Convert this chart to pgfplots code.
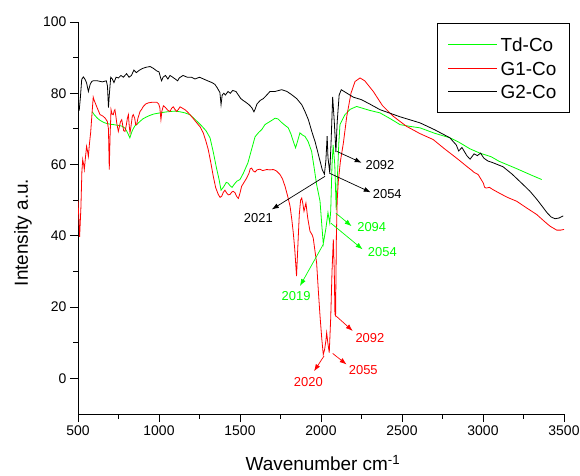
\documentclass[border=0pt]{standalone}
\usepackage{fontspec}
\setmainfont{Liberation Sans}
\usepackage{pgfplots}
\pgfplotsset{compat=1.18}
\usetikzlibrary{arrows.meta}
\definecolor{cgreen}{RGB}{0,255,0}
\definecolor{cred}{RGB}{255,0,0}
\pgfplotsset{mylegend/.style={legend image code/.code={\draw[##1, line width=0.8bp] (0bp,0bp) -- (49bp,0bp);}}}
\begin{document}
\begin{tikzpicture}
\begin{axis}[
  scale only axis, width=486bp, height=392bp,
  xmin=500, xmax=3500, ymin=-10, ymax=100,
  axis x line*=bottom, axis y line*=left,
  axis line style={line width=0.9bp},
  xtick={500,1000,...,3500}, minor x tick num=1,
  ytick={0,20,...,100}, minor y tick num=1,
  tick align=outside,
  major tick length=8bp, minor tick length=4.5bp,
  every tick/.style={black, line width=0.9bp},
  /pgf/number format/assume math mode=true,
  /pgf/number format/1000 sep={},
  tick label style={font=\fontsize{14}{16}\selectfont},
  xlabel={Wavenumber cm\textsuperscript{-1}},
  ylabel={Intensity a.u.},
  label style={font=\fontsize{19}{22}\selectfont},
  xlabel style={at={(axis description cs:0.504,-0.1454)}, anchor=base},
  ylabel style={at={(axis description cs:-0.113,0.463)}, anchor=center},
  clip mode=individual,
  legend cell align=left,
  legend style={at={(rel axis cs:1.012,0.997)}, anchor=north east,
    font=\fontsize{19}{22}\selectfont, draw=black, line width=0.9bp,
    inner xsep=10bp, inner ysep=12bp, row sep=5.5bp,
    nodes={inner xsep=3bp, inner ysep=2bp, text height=14bp, text depth=0bp}},
]
\addplot[cgreen, line width=0.8bp, mylegend] coordinates {
(588,74.8)(600,74)(620,73)(636,72.4)(660,71.8)(680,71.5)(700,71.3)(720,71.2)(747,71)(770,70.8)
(790,70.2)(805,69)(820,67.5)(835,69.5)(850,70.8)(864,71.3)(880,72)(900,72.8)(920,73.3)(944,73.8)
(970,74.2)(1006,74.5)(1050,74.8)(1099,75)(1130,74.8)(1160,74.5)(1190,74)(1210,73.2)(1233,72.2)
(1260,71)(1290,69.5)(1315,67.5)(1335,63.5)(1355,59)(1370,56)(1383,52.8)(1400,53.8)(1415,55)
(1426,54.8)(1440,54)(1451,53.6)(1465,54.5)(1480,55.3)(1500,55.8)(1520,57.5)(1549,60.5)(1570,64)
(1593,67.8)(1615,69)(1634,69.8)(1654,71.2)(1675,71.8)(1700,72.5)(1716,73)(1735,72.8)(1757,71.8)
(1778,71)(1798,70.3)(1815,68.5)(1829,66.5)(1843,64.7)(1855,66.5)(1870,68.9)(1885,68.3)(1901,67.9)
(1920,66.5)(1942,63.7)(1958,59)(1973,54.4)(1994,49.7)(2005,43)(2014,37.8)(2030,42)(2043,46.5)
(2054,43.6)(2060,47)(2068,60)(2075,65.5)(2085,60)(2094,47.2)(2100,55)(2110,66)(2117,71.2)
(2148,74)(2180,75.5)(2220,76.3)(2300,75.2)(2364,74.5)(2430,72.8)(2488,71.2)(2550,70.7)
(2611,70.3)(2700,68.8)(2796,67.5)(2850,66.3)(2920,64.4)(2981,63.2)(3050,62.2)(3100,60.9)
(3200,59.0)(3300,57.0)(3362,55.8)
};
\addlegendentry{Td-Co}
\addplot[cred, line width=0.8bp, mylegend] coordinates {
(500,50)(505,45)(510,39.7)(518,48)(524,58)(529,61.4)(535,60)(539,58.6)(546,62)(553,65.1)
(558,64)(564,62.3)(571,66)(578,68.9)(586,74)(594,78.9)(600,78)(615,76.3)(625,75.2)(636,74)
(646,73.8)(656,73.5)(668,73)(681,72.1)(688,70)(693,58.6)(698,68)(704,75.4)(710,74.2)(718,74)
(723,75)(728,75.4)(734,73.5)(739,71.7)(744,70.5)(749,69.3)(755,70.5)(762,72)(770,72.6)(776,71)
(782,69.5)(790,69.3)(798,71)(805,73)(811,74)(816,71)(821,68.9)(828,71)(835,73.5)(841,74)
(850,73)(856,71.2)(862,71.2)(870,73)(883,74.9)(893,75.5)(903,76.3)(918,77)(934,77.3)(960,77.5)
(986,77.5)(998,77)(1005,76)(1012,72.6)(1018,75)(1027,76.5)(1040,76)(1055,75.2)(1068,74.9)
(1078,75.8)(1088,76.2)(1098,75.5)(1109,74.9)(1120,75.5)(1130,76.2)(1145,75.8)(1160,75.4)
(1175,74.8)(1191,74)(1210,73)(1233,71.7)(1255,70.5)(1273,68.9)(1290,66.5)(1304,64.2)(1320,60.5)
(1335,56.7)(1350,53.5)(1366,51.6)(1377,50.8)(1387,51.1)(1397,52.2)(1407,52.8)(1418,52)
(1428,51.5)(1438,51.6)(1450,52.3)(1458,52.5)(1469,52.1)(1480,51)(1490,50.5)(1500,52)(1510,53.9)
(1525,55)(1541,56.2)(1555,57.5)(1563,58.8)(1572,59)(1582,58.2)(1593,57.9)(1605,58.5)(1623,58.7)
(1640,58.3)(1665,58.6)(1685,58.5)(1706,58.6)(1725,58.2)(1747,57.2)(1762,56)(1778,53.9)(1795,51)
(1809,48.3)(1820,44.5)(1829,40.8)(1838,36.2)(1849,28.7)(1858,38)(1866,46)(1874,50)(1881,50.6)
(1888,49)(1895,46.9)(1901,48)(1907,49.2)(1918,45)(1932,41.3)(1945,40.3)(1952,39.4)(1962,36)
(1973,32.4)(1983,25)(1994,17.5)(2005,11)(2014,6.7)(2022,8)(2030,10.5)(2035,12.8)(2042,10)
(2051,7.2)(2060,17)(2068,30)(2076,39)(2082,30)(2086,18)(2090,17.6)(2095,40)(2100,50)(2107,55.3)
(2120,61)(2138,66)(2159,73.5)(2185,80)(2210,83.3)(2241,84.3)(2270,83.5)(2323,80.5)(2380,76.5)
(2447,73.5)(2529,70.7)(2610,68.7)(2693,67)(2760,64.5)(2817,62.5)(2848,61.4)(2899,59.5)
(2930,58.4)(2945,57.8)(2970,57.2)(3002,54.8)(3010,53.6)(3019,53.4)(3040,53.6)(3060,53)
(3100,52)(3150,50.8)(3208,49.7)(3270,47.8)(3331,46)(3380,44)(3414,42.7)(3455,41.6)(3480,41.6)
(3500,41.8)
};
\addlegendentry{G1-Co}
\addplot[black, line width=0.8bp, mylegend] coordinates {
(500,76)(508,75.4)(515,79)(523,83.9)(533,84.6)(545,83.8)(553,82.9)(564,80.5)(575,82.5)(585,83.3)
(593,83.5)(620,83.5)(650,83.2)(675,83.5)(682,82)(688,76)(694,80)(702,84.5)(712,84)(722,83)
(735,84.5)(750,84.3)(765,85)(780,84.5)(800,85.5)(815,84.5)(830,85)(845,86.5)(860,85.8)(880,86.5)
(900,87)(920,87.3)(945,87.5)(965,87)(985,86.3)(1000,86)(1012,84)(1016,83.5)(1025,84.5)(1040,85)
(1055,84)(1068,85)(1085,84.5)(1100,84)(1115,83.5)(1125,84.3)(1148,85)(1175,84.5)(1200,84.5)
(1222,84)(1250,84.5)(1275,84)(1300,83.5)(1327,83)(1345,82.5)(1360,81.5)(1376,80.2)(1383,76.8)
(1390,79.5)(1400,80)(1410,79.5)(1426,80.5)(1440,80)(1455,80.8)(1475,80.5)(1490,79.5)(1505,78.5)
(1519,78)(1535,77.5)(1550,77)(1562,76.5)(1575,75.8)(1586,74.8)(1593,75.5)(1605,77)(1625,78)
(1644,78.5)(1665,79.5)(1685,80.5)(1716,80.5)(1757,81)(1790,80.5)(1819,79.6)(1850,78.5)
(1881,76.8)(1900,75)(1922,72.6)(1945,69)(1963,66.5)(1980,63.5)(1994,61)(2008,58.5)(2021,57.3)
(2030,61)(2038,68)(2043,62)(2054,57.7)(2062,66)(2072,79)(2082,72)(2092,63.5)(2100,72)(2112,79.5)
(2125,81)(2200,78.9)(2250,78.2)(2300,77)(2364,75.4)(2488,73.4)(2611,71.7)(2700,69.8)(2796,67.5)
(2815,66.5)(2835,65.5)(2850,63.8)(2870,64.8)(2900,62.5)(2920,61.5)(2945,63)(2965,62.5)
(2985,63.2)(3005,61.8)(3030,61)(3062,60.5)(3100,59.8)(3123,59.4)(3180,57.3)(3247,54.4)
(3290,52.5)(3333,50.2)(3370,48)(3395,46.5)(3420,45.3)(3444,44.8)(3470,45)(3495,45.6)
};
\addlegendentry{G2-Co}
% annotations
\begin{scope}[line width=0.7bp, font=\fontsize{13}{15}\selectfont]
\draw[black,-{Latex[length=7bp,width=5bp]}] (axis cs:2025,56.7) -- (axis cs:1696,47.4);
\node[black] at (axis cs:1613,45) {2021};
\draw[black,-{Latex[length=7bp,width=5bp]}] (axis cs:2097,63.7) -- (axis cs:2251,60.5);
\node[black] at (axis cs:2364,60) {2092};
\draw[black,-{Latex[length=7bp,width=5bp]}] (axis cs:2051,57.6) -- (axis cs:2307,52.2);
\node[black] at (axis cs:2409,51.6) {2054};
\draw[cgreen,-{Latex[length=7bp,width=5bp]}] (axis cs:2091,46.4) -- (axis cs:2189,42.7);
\node[cgreen] at (axis cs:2313,42.5) {2094};
\draw[cgreen,-{Latex[length=7bp,width=5bp]}] (axis cs:2060,43.6) -- (axis cs:2257,36.2);
\node[cgreen] at (axis cs:2379,35.5) {2054};
\draw[cgreen,-{Latex[length=7bp,width=5bp]}] (axis cs:2014,37.6) -- (axis cs:1870,25.9);
\node[cgreen] at (axis cs:1846,23) {2019};
\draw[cred,-{Latex[length=7bp,width=5bp]}] (axis cs:2093,17.5) -- (axis cs:2196,13.3);
\node[cred] at (axis cs:2302,11.4) {2092};
\draw[cred,-{Latex[length=7bp,width=5bp]}] (axis cs:2072,7) -- (axis cs:2158,3.9);
\node[cred] at (axis cs:2261,2.3) {2055};
\draw[cred,-{Latex[length=7bp,width=5bp]}] (axis cs:2019,6.3) -- (axis cs:1957,2);
\node[cred] at (axis cs:1922,-0.9) {2020};
\end{scope}
\end{axis}
\pgfresetboundingbox
\path (-78bp,-62bp) rectangle (502bp,414bp);
\end{tikzpicture}
\end{document}
